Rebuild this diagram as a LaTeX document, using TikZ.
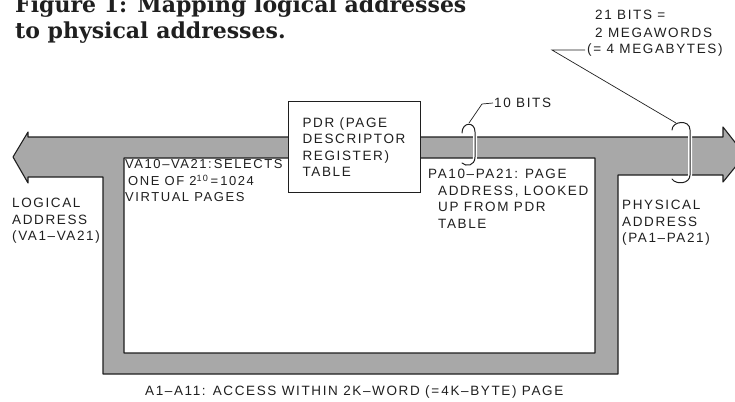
\documentclass[tikz,border=0pt]{standalone}
\usepackage{fontspec}
\usetikzlibrary{positioning}
\newfontfamily\labfont{Liberation Sans}[LetterSpace=12]
\newfontfamily\headfont{DejaVu Serif}
\newcommand{\dsh}{\textendash}
\colorlet{band}{black!34}
\colorlet{ink}{black!88}
\tikzset{
  lab/.style    ={font=\labfont\fontsize{13.5}{16.5}\selectfont, align=left,
                  inner sep=0pt, anchor=west, text=ink},
  head/.style   ={font=\headfont\bfseries\fontsize{22}{26}\selectfont,
                  inner sep=0pt, anchor=base west, text=ink},
  bus/.style    ={draw=ink, fill=band, even odd rule, line width=1.1pt,
                  line join=round},
  pdrbox/.style ={lab, draw=ink, fill=white, line width=1pt, anchor=center,
                  minimum width=132pt, minimum height=90pt},
  brk/.style    ={draw=ink, line width=1pt, line cap=round,
                  preaction={draw=white, line width=4pt}},
  lead/.style   ={draw=ink, line width=0.7pt},
}
\begin{document}
\begin{tikzpicture}[x=1pt, y=-1pt]
\useasboundingbox (0,0) rectangle (735,401);

\node[head] (fig1) at (15,13) {Figure 1: Mapping logical addresses};
\node[head] (fig2) at (15,39) {to physical addresses.};

% the address path: logical in at left, physical out at right,
% page offset carried round the loop
\path[bus] (13,157) -- (28,132) -- (28,137) -- (723,137) -- (723,127)
  -- (745,155) -- (723,182) -- (723,175) -- (618,175) -- (618,374)
  -- (103,374) -- (103,177) -- (28,177) -- (28,183) -- cycle
  (124,158) -- (595,158) -- (595,353) -- (124,353) -- cycle;

\node[pdrbox] (pdr) at (354,147) {PDR (PAGE\\DESCRIPTOR\\REGISTER)\\TABLE};

\node[lab] (logical)  at (12,221)  {LOGICAL\\ADDRESS\\(VA1\dsh VA21)};
\node[lab, font=\labfont\fontsize{13}{16.5}\selectfont] (va) at (125,181)
  {VA10\dsh VA21:\,SELECTS\\
  \hspace*{3pt}ONE OF 2\textsuperscript{10}\,=\,1024\\VIRTUAL PAGES};
\node[lab] (pa)       at (428,199) {PA10\dsh PA21: PAGE\\
  \hspace*{10pt}ADDRESS, LOOKED\\\hspace*{10pt}UP FROM PDR\\
  \hspace*{10pt}TABLE};
\node[lab] (physical) at (622,223) {PHYSICAL\\ADDRESS\\(PA1\dsh PA21)};
\node[lab] (offset)   at (145,392)
  {A1\dsh A11: ACCESS WITHIN 2K\dsh WORD (=\,4K\dsh BYTE) PAGE};

\node[lab] (tenbits) at (494,103) {10 BITS};
\node[lab] (bitsA)   at (595,15)  {21 BITS =};
\node[lab] (bitsB)   at (595,33)  {2 MEGAWORDS};
\node[lab] (bitsC)   at (587,50)  {(= 4 MEGABYTES)};

% bit-field brackets
\coordinate (tentop)   at (469,123);
\coordinate (tenbend)  at (482,104);
\path[brk] (462,133) .. controls (462,122) and (475,121) .. (475,132)
  -- (475,157) .. controls (475,166) and (466,167) .. (462,163);
\draw[lead] (tentop) -- (tenbend) -- ([xshift=-1pt]tenbits.west);

\coordinate (widetop)  at (676,123);
\coordinate (widebend) at (552,50);
\path[brk] (672,130) .. controls (672,121) and (690,119) .. (690,130)
  -- (690,175) .. controls (690,184) and (676,185) .. (672,179);
\draw[lead] ([xshift=-2pt]bitsC.west) -- (widebend) -- (widetop);

\end{tikzpicture}
\end{document}
